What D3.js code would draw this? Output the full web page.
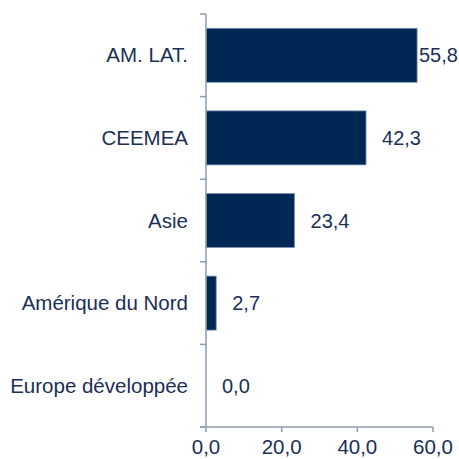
<!DOCTYPE html>
<html>
<head>
<meta charset="utf-8">
<script src="https://cdn.jsdelivr.net/npm/d3@7"></script>
<style>
  body { margin: 0; background: #fff; }
  svg text { font-family: "Liberation Sans", Arial, sans-serif; fill: #1b2f57; }
</style>
</head>
<body>
<div id="chart"></div>
<script>
// regions and their values
const categories = ['AM. LAT.', 'CEEMEA', 'Asie', 'Amérique du Nord', 'Europe développée'];
const values = [55.8, 42.3, 23.4, 2.7, 0.0];
const xTicks = [0, 20, 40, 60];

const width = 459, height = 459;
const margin = { top: 14, right: 26, bottom: 32, left: 206 };
const fmt = v => v.toFixed(1).replace('.', ',');

const svg = d3.select('#chart').append('svg')
    .attr('width', width)
    .attr('height', height);

const x = d3.scaleLinear()
    .domain([0, 60])
    .range([margin.left, width - margin.right]);

const y = d3.scaleBand()
    .domain(categories)
    .range([margin.top, height - margin.bottom])
    .paddingInner(0.346)
    .paddingOuter(0.173);

const axisColor = '#8e9cb0';
const y0 = margin.top, y1 = height - margin.bottom;

// bars
svg.append('g')
    .selectAll('rect')
    .data(values)
    .enter()
    .append('rect')
    .attr('x', x(0))
    .attr('y', (d, i) => y(categories[i]))
    .attr('width', d => x(d) - x(0))
    .attr('height', y.bandwidth())
    .attr('fill', '#002855')
    .attr('stroke', d => d > 0 ? '#8094b2' : 'none')
    .attr('stroke-width', 0.8);

// vertical axis with ticks between categories
const step = y.step();
const yAxis = svg.append('g');
yAxis.append('line')
    .attr('x1', x(0)).attr('x2', x(0))
    .attr('y1', y0).attr('y2', y1)
    .attr('stroke', axisColor).attr('stroke-width', 1.5);
d3.range(categories.length + 1).forEach(i => {
    const ty = y0 + i * step;
    yAxis.append('line')
        .attr('x1', x(0) - 6).attr('x2', x(0))
        .attr('y1', ty).attr('y2', ty)
        .attr('stroke', axisColor).attr('stroke-width', 1.5);
});

// horizontal axis
const xAxis = svg.append('g');
xAxis.append('line')
    .attr('x1', x(0) - 6).attr('x2', x(60))
    .attr('y1', y1).attr('y2', y1)
    .attr('stroke', axisColor).attr('stroke-width', 1.5);
xAxis.selectAll('.tick')
    .data(xTicks)
    .enter()
    .append('line')
    .attr('x1', d => x(d)).attr('x2', d => x(d))
    .attr('y1', y1).attr('y2', y1 + 5)
    .attr('stroke', axisColor).attr('stroke-width', 1.5);
xAxis.selectAll('text')
    .data(xTicks)
    .enter()
    .append('text')
    .attr('x', d => x(d))
    .attr('y', y1 + 27)
    .attr('text-anchor', 'middle')
    .attr('font-size', '20.5px')
    .text(fmt);

// category labels
svg.append('g')
    .selectAll('text')
    .data(categories)
    .enter()
    .append('text')
    .attr('x', 188)
    .attr('y', d => y(d) + y.bandwidth() / 2)
    .attr('dy', '0.35em')
    .attr('text-anchor', 'end')
    .attr('font-size', '20.5px')
    .text(d => d);

// value labels
svg.append('g')
    .selectAll('text')
    .data(values)
    .enter()
    .append('text')
    .attr('x', d => Math.min(x(d) + 16, width - 40))
    .attr('y', (d, i) => y(categories[i]) + y.bandwidth() / 2)
    .attr('dy', '0.35em')
    .attr('font-size', '20px')
    .text(fmt);
</script>
</body>
</html>
